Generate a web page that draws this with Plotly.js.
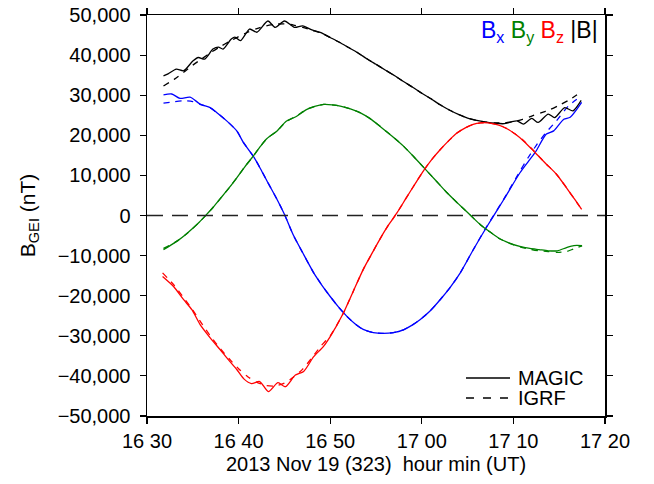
<!DOCTYPE html>
<html>
<head>
<meta charset="utf-8">
<script src="https://cdn.plot.ly/plotly-3.0.1.min.js"></script>
<style>html,body{margin:0;padding:0;background:#fff;}#chart{width:654px;height:484px;}</style>
</head>
<body>
<div id="chart"></div>
<script>
// time in minutes after 16:30 UT, 2013 Nov 19
var xTickVals = [0, 10, 20, 30, 40, 50];
var xTickText = ["16 30", "16 40", "16 50", "17 00", "17 10", "17 20"];
var legendNames = ["MAGIC", "IGRF"];

// |B| (nT)
var tB_magic = [1.8,2.3,3.2,4.0,5.0,5.6,6.3,7.2,7.8,8.3,9.2,9.6,10.2,11.2,12.0,13.2,14.0,15.0,16.1,17.0,18.0,19.0,20.0,21.0,22.0,23.0,24.0,25.0,26.0,27.0,28.0,29.0,30.0,31.0,32.0,33.0,34.0,35.0,36.0,37.0,38.0,39.0,39.7,40.4,41.1,42.0,42.7,43.8,44.5,45.6,46.5,47.4];
var B_magic = [34800,35300,36500,36100,38500,39400,39000,41500,42000,41500,44000,44500,43600,46500,45700,48500,46900,48500,46900,47300,46300,45600,44400,43200,41900,40600,39100,37700,36300,34900,33400,32000,30500,29100,27600,26300,25200,24300,23700,23300,23000,22900,23300,23600,22800,24200,23200,25300,24400,26900,26100,28700];
var tB_igrf = [1.8,3.0,4.0,5.0,6.0,7.0,8.0,9.0,10.0,11.0,12.0,13.0,14.0,15.0,16.0,17.0,18.0,19.0,20.0,21.0,22.0,23.0,24.0,25.0,26.0,27.0,28.0,29.0,30.0,31.0,32.0,33.0,34.0,35.0,36.0,37.0,38.0,39.0,40.0,41.0,42.0,43.0,44.0,45.0,46.0,47.4];
var B_igrf = [32300,34000,35700,37500,39100,40700,42100,43400,44600,45700,46600,47300,47700,47800,47500,46900,46200,45500,44400,43200,41900,40600,39100,37700,36300,34900,33400,32000,30500,29100,27600,26300,25200,24300,23700,23300,23100,23100,23400,24000,24800,25600,26400,27500,28700,30800];

// Bx (nT)
var tX_magic = [1.8,2.7,3.6,4.7,5.8,6.9,7.6,8.7,9.8,10.5,11.6,12.4,13.1,14.2,15.0,16.0,17.0,18.2,19.1,20.0,20.9,21.8,22.7,23.6,24.7,25.8,26.9,28.0,28.9,29.8,30.9,32.0,33.1,34.2,35.6,37.1,38.9,40.7,41.6,42.4,43.6,44.4,45.5,46.2,47.45];
var Bx_magic = [30100,30300,29200,29500,27800,26900,25700,23600,21100,18300,14800,11600,8600,4000,300,-5000,-9300,-14300,-17400,-20200,-22800,-25100,-27000,-28400,-29200,-29400,-29200,-28500,-27400,-26000,-23800,-21000,-17900,-14300,-8600,-2800,3800,10600,13400,15800,20300,21100,24000,24500,28200];
var tX_igrf = [1.8,3.0,4.0,5.0,5.8,6.9,7.6,8.7,9.8,10.5,11.6,12.4,13.1,14.2,15.0,16.0,17.0,18.2,19.1,20.0,20.9,21.8,22.7,23.6,24.7,25.8,26.9,28.0,28.9,29.8,30.9,32.0,33.1,34.2,35.6,37.1,38.9,40.7,41.6,42.5,43.6,44.7,46.0,47.4];
var Bx_igrf = [28000,28400,28600,28400,27700,26800,25700,23600,21100,18300,14800,11600,8600,4000,300,-5000,-9300,-14300,-17400,-20200,-22800,-25100,-27000,-28400,-29200,-29400,-29200,-28500,-27400,-26000,-23800,-21000,-17900,-14300,-8600,-2700,3900,11000,14400,17500,20800,23600,27300,29800];

// By (nT)
var tY_magic = [1.8,2.6,3.4,4.2,5.0,5.7,6.4,7.2,8.0,9.0,9.8,10.7,11.6,12.4,13.1,14.2,15.2,16.3,17.4,18.3,19.3,20.2,21.1,22.2,23.3,24.4,25.4,26.7,28.0,29.1,30.2,31.5,32.7,34.0,35.2,36.4,37.5,38.5,39.5,40.7,41.8,42.8,43.8,44.8,45.8,46.6,47.5];
var By_magic = [-8500,-7400,-6200,-4800,-3200,-1700,0,2000,4200,7000,9400,12200,14800,17300,19200,21100,23500,24700,26400,27200,27700,27600,27300,26600,25600,24100,22300,19900,17300,14700,12000,8800,5800,2900,300,-2300,-4200,-5800,-6800,-7700,-8200,-8500,-8800,-8800,-8000,-7500,-7500];
var By_igrf = [-8200,-7300,-6200,-4800,-3200,-1700,0,2000,4200,7000,9400,12200,14800,17300,19200,21100,23400,24800,26400,27200,27700,27600,27300,26600,25600,24100,22300,19900,17300,14700,12000,8800,5800,2900,300,-2300,-4200,-5800,-6900,-7800,-8400,-8800,-9000,-9200,-9000,-8300,-7600];

// Bz (nT)
var tZ_magic = [1.7,2.9,4.0,4.9,5.8,6.9,8.0,8.9,9.8,10.6,11.4,12.3,13.25,14.3,15.1,16.2,17.1,18.2,19.25,20.0,21.4,22.5,23.6,24.5,25.4,26.3,27.3,28.2,29.1,30.2,31.1,32.0,33.0,33.8,34.7,35.6,36.4,37.2,38.0,38.8,39.5,40.2,41.1,42.2,43.0,43.6,44.7,45.8,46.7,47.45];
var Bz_magic = [-15200,-17700,-21000,-23500,-27200,-30500,-33500,-36000,-38400,-40800,-41900,-41400,-43900,-41700,-42700,-39800,-38900,-35200,-32700,-30200,-24500,-19000,-13500,-9700,-6000,-2600,700,4000,7300,11200,14000,16400,18800,20500,21800,22700,23100,23100,22800,22200,21400,20300,18600,16100,14200,12800,10300,6900,4000,1500];
var tZ_igrf = [1.7,3.0,4.0,5.0,6.0,7.0,8.0,9.0,10.0,11.0,12.0,13.0,14.0,15.0,16.0,17.0,18.0,19.0,20.0,21.4,22.5,23.6,24.5,25.4,26.3,27.3,28.2,29.1,30.2,31.1,32.0,33.0,33.8,34.7,35.6,36.4,37.2,38.0,38.8,39.5,40.2,41.1,42.2,43.0,43.6,44.7,45.8,46.7,47.45];
var Bz_igrf = [-14300,-17500,-20500,-23600,-27000,-30300,-33200,-35800,-38200,-40200,-41600,-42400,-42500,-41800,-40300,-38300,-35500,-32500,-30000,-24500,-19000,-13500,-9700,-6000,-2600,700,4000,7300,11200,14000,16400,18800,20500,21800,22700,23100,23100,22800,22200,21400,20300,18700,16200,14200,12800,10300,6900,4000,1500];

var blue = "#0000ff", green = "#008000", red = "#ff0000", black = "#000000";
var LW = 1.3;
var dashIGRF = "6px,6px";

function tr(x, y, color, dash) {
  return {x: x, y: y, type: "scatter", mode: "lines", showlegend: false, hoverinfo: "skip",
          line: {color: color, width: LW, dash: dash || "solid", shape: "spline", smoothing: 0.7}};
}

var data = [
  tr(tB_igrf, B_igrf, black, dashIGRF),
  tr(tX_igrf, Bx_igrf, blue, dashIGRF),
  tr(tY_magic, By_igrf, green, dashIGRF),
  tr(tZ_igrf, Bz_igrf, red, dashIGRF),
  tr(tB_magic, B_magic, black),
  tr(tX_magic, Bx_magic, blue),
  tr(tY_magic, By_magic, green),
  tr(tZ_magic, Bz_magic, red)
];

var FONT = "Liberation Sans, Arial, sans-serif";
// legend key (drawn in paper space)
var legX0 = 0.6965, legX1 = 0.7926, legTx = 0.805;
var legY = [0.0948, 0.0449];

var layout = {
  width: 654, height: 484,
  margin: {l: 147, r: 49, t: 15, b: 68},
  paper_bgcolor: "#ffffff", plot_bgcolor: "#ffffff",
  font: {family: FONT, size: 20, color: "#000"},
  showlegend: false,
  xaxis: {
    range: [0, 50], tickvals: xTickVals, ticktext: xTickText,
    showgrid: false, zeroline: false, showline: true, linecolor: "#000", linewidth: 1.5,
    mirror: "allticks", ticks: "outside", ticklen: 6, tickwidth: 1.2, tickcolor: "#000",
    tickfont: {size: 20, family: FONT},
    title: {text: "2013 Nov 19 (323)  hour min (UT)", font: {size: 20, family: FONT}, standoff: 6}
  },
  yaxis: {
    range: [-50000, 50000], dtick: 10000, tick0: 0, tickformat: ",d",
    showgrid: false, zeroline: false, showline: true, linecolor: "#000", linewidth: 1.5,
    mirror: "allticks", ticks: "outside", ticklen: 6, tickwidth: 1.2, tickcolor: "#000",
    ticklabelstandoff: 5,
    tickfont: {size: 20, family: FONT},
    title: {text: "B<sub>GEI</sub> (nT)", font: {size: 21, family: FONT}, standoff: 16}
  },
  shapes: [
    {type: "line", xref: "paper", yref: "y", x0: 0, x1: 1, y0: 0, y1: 0,
     line: {color: "#222", width: 1.5, dash: "16px,9px"}},
    {type: "line", xref: "paper", yref: "paper", x0: legX0, x1: legX1, y0: legY[0], y1: legY[0],
     line: {color: black, width: LW}},
    {type: "line", xref: "paper", yref: "paper", x0: legX0, x1: legX1, y0: legY[1], y1: legY[1],
     line: {color: black, width: LW, dash: "8px,9px"}}
  ],
  annotations: [
    {xref: "paper", yref: "paper", x: 0.99, y: 1.0, xanchor: "right", yanchor: "top", showarrow: false,
     font: {size: 23, family: FONT},
     text: "<span style='color:" + blue + "'>B<sub>x</sub></span> <span style='color:" + green + "'>B<sub>y</sub></span> <span style='color:" + red + "'>B<sub>z</sub></span> |B|"},
    {xref: "paper", yref: "paper", x: legTx, y: legY[0], xanchor: "left", yanchor: "middle", showarrow: false,
     font: {size: 20, family: FONT}, text: legendNames[0]},
    {xref: "paper", yref: "paper", x: legTx, y: legY[1], xanchor: "left", yanchor: "middle", showarrow: false,
     font: {size: 20, family: FONT}, text: legendNames[1]}
  ]
};

Plotly.newPlot("chart", data, layout, {staticPlot: true, displayModeBar: false});
</script>
</body>
</html>
